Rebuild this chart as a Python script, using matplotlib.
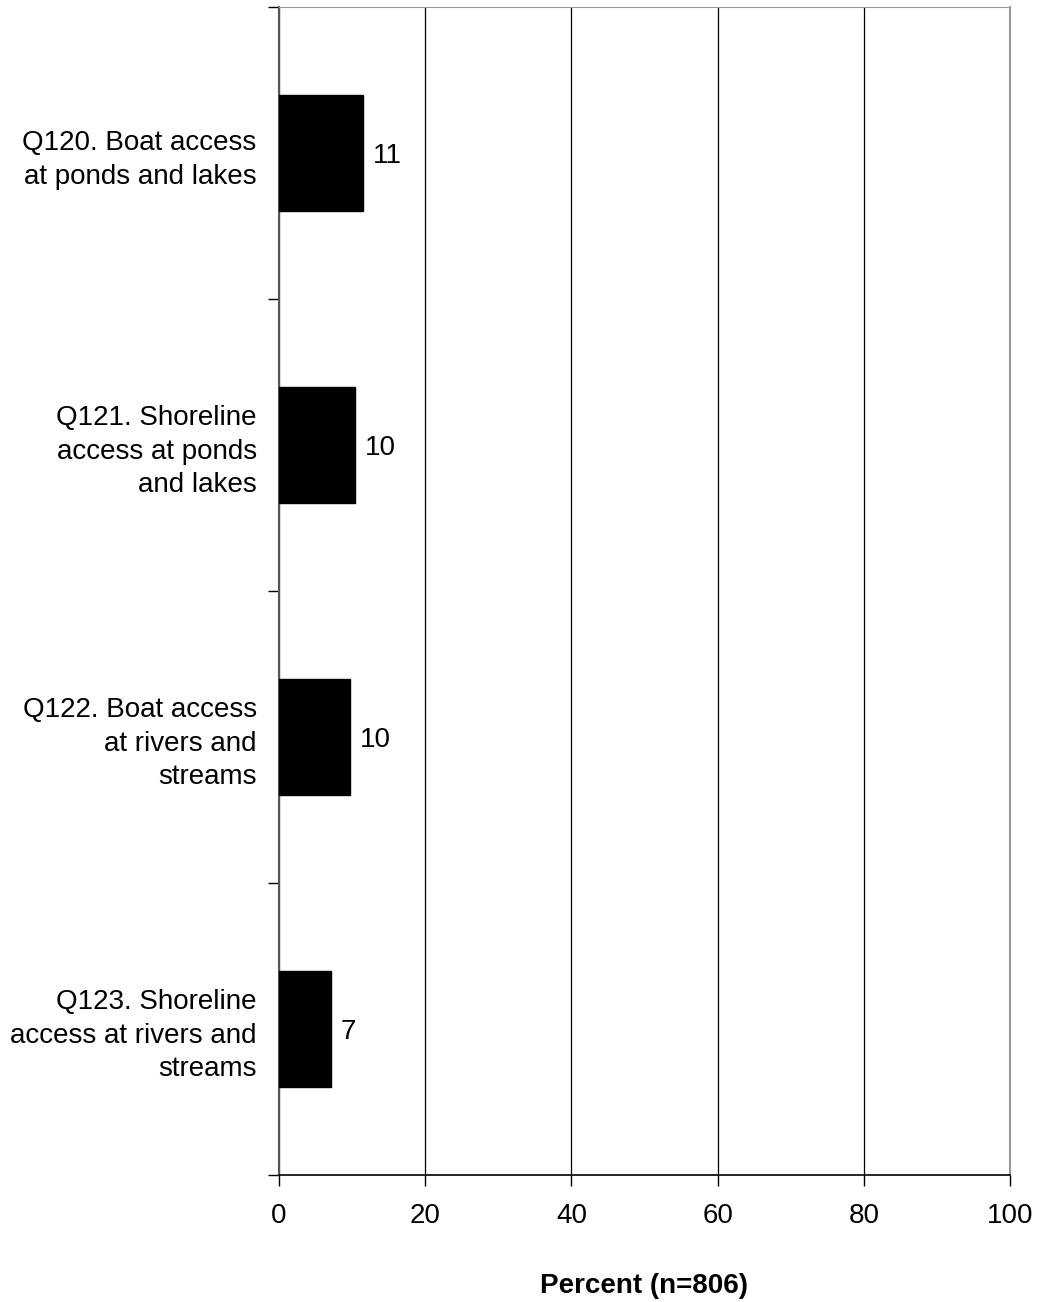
import matplotlib
matplotlib.use("Agg")
import matplotlib.pyplot as plt
import numpy as np

plt.rcParams["font.family"] = ["Liberation Sans", "DejaVu Sans"]

categories = [
    "Q120. Boat access\nat ponds and lakes",
    "Q121. Shoreline\naccess at ponds\nand lakes",
    "Q122. Boat access\nat rivers and\nstreams",
    "Q123. Shoreline\naccess at rivers and\nstreams",
]
values = [11.5, 10.4, 9.7, 7.1]
value_labels = ["11", "10", "10", "7"]
x_ticks = [0, 20, 40, 60, 80, 100]

fig = plt.figure(figsize=(10.39, 13.02), dpi=100)
ax = fig.add_axes([0.2685, 0.0975, 0.7036, 0.8971])

y = np.arange(len(categories))
ax.barh(y, values, height=0.4, color="black", edgecolor="black", zorder=3)
for yi, v, lab in zip(y, values, value_labels):
    ax.text(v + 1.4, yi + 0.01, lab, va="center", ha="left", fontsize=20)

ax.set_xlim(0, 100)
ax.set_ylim(len(categories) - 0.5, -0.5)
ax.set_xticks(x_ticks)
ax.set_xticklabels([str(t) for t in x_ticks], fontsize=20)
ax.tick_params(axis="x", length=8, width=1, pad=12, color="black")

ax.set_yticks(y)
ax.set_yticklabels(categories, fontsize=20, linespacing=1.38)
ax.set_yticks(np.arange(len(categories) + 1) - 0.5, minor=True)
ax.tick_params(axis="y", which="major", length=0, pad=16)
ax.tick_params(axis="y", which="minor", length=8, width=1, color="black")

ax.xaxis.grid(True, color="black", linewidth=0.9, zorder=0)
ax.set_axisbelow(True)

ax.spines["top"].set_color("#999999")
ax.spines["right"].set_color("#999999")
ax.spines["right"].set_linewidth(1.5)
ax.spines["left"].set_color("#555555")
ax.spines["left"].set_linewidth(1.5)
ax.spines["bottom"].set_color("black")
ax.spines["bottom"].set_linewidth(1.2)

ax.set_xlabel("Percent (n=806)", fontsize=20, fontweight="bold", labelpad=32)

fig.savefig("out.png", dpi=100)
